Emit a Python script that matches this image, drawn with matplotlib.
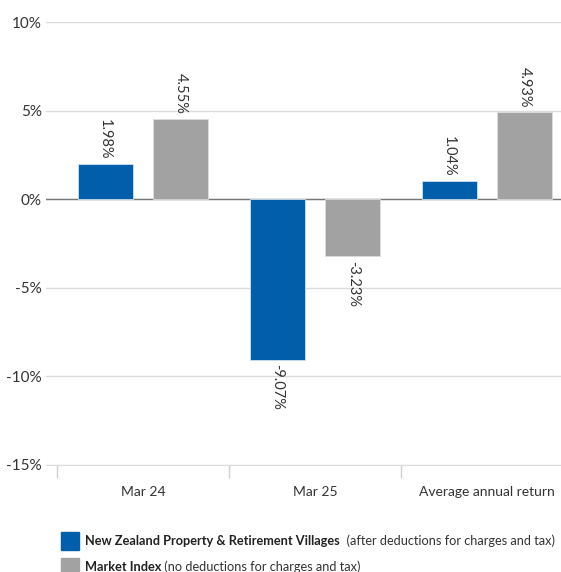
import numpy as np
import matplotlib.pyplot as plt
from matplotlib.patches import Rectangle

categories = ['Mar 24', 'Mar 25', 'Average annual return']
fund_values = [1.98, -9.07, 1.04]
index_values = [4.55, -3.23, 4.93]
fund_name = 'New Zealand Property & Retirement Villages'
fund_note = '  (after deductions for charges and tax)'
index_name = 'Market Index'
index_note = ' (no deductions for charges and tax)'

blue = '#005EAB'
grey = '#A2A2A3'
text_col = '#333333'

plt.rcParams['font.family'] = ['Lato', 'DejaVu Sans']

fig = plt.figure(figsize=(5.61, 5.72), dpi=100)
ax = fig.add_axes([46 / 561, 107 / 572, 515 / 561, 443 / 572])

x = np.arange(len(categories))
w = 0.32
ax.bar(x - 0.22, fund_values, w, color=blue, edgecolor='#cfe0f0', linewidth=0.6, zorder=3)
ax.bar(x + 0.22, index_values, w, color=grey, edgecolor='#dddddd', linewidth=0.6, zorder=3)

# value labels, rotated
for xs, vals in [(x - 0.22, fund_values), (x + 0.22, index_values)]:
    for xi, v in zip(xs, vals):
        off = 0.25 if v >= 0 else -0.25
        ax.text(xi, v + off, f'{v:.2f}%', rotation=270, ha='center',
                va='bottom' if v >= 0 else 'top', fontsize=10.5, color=text_col, zorder=4)

ax.set_xlim(-0.564, 2.43)
ax.set_ylim(-15, 10)
ax.set_yticks([10, 5, 0, -5, -10, -15])
ax.set_yticklabels([f'{t}%' for t in [10, 5, 0, -5, -10, -15]])
ax.yaxis.grid(True, color='#dcdcdc', linewidth=1, zorder=0)
ax.axhline(0, color='#777777', linewidth=1, zorder=2)

ax.set_xticks(x)
ax.set_xticklabels(categories)
ax.set_xticks(np.arange(len(categories)) - 0.5, minor=True)
ax.tick_params(axis='x', which='major', length=0, pad=15, labelsize=10, labelcolor=text_col)
ax.tick_params(axis='x', which='minor', length=9, width=1, color='#d0d0d0')
ax.tick_params(axis='y', length=0, pad=3, labelsize=11, labelcolor=text_col)

for s in ['top', 'right', 'left']:
    ax.spines[s].set_visible(False)
ax.spines['bottom'].set_color('#dcdcdc')

# legend drawn by hand, sized so the first line spans x 85..553
fig.canvas.draw()
r = fig.canvas.get_renderer()
fs = 10.0
for _ in range(2):
    a = fig.text(0, 0, fund_name, fontsize=fs, fontweight='bold')
    b = fig.text(0, 0, fund_note, fontsize=fs)
    width = a.get_window_extent(r).width + b.get_window_extent(r).width
    a.remove()
    b.remove()
    fs = fs * 468 / width

for row, (col, name, note) in enumerate([(blue, fund_name, fund_note), (grey, index_name, index_note)]):
    yc = 1 - (541 + 26 * row) / 572
    fig.patches.append(Rectangle((61 / 561, yc - 9 / 572), 18 / 561, 18 / 572,
                                 transform=fig.transFigure, color=col))
    t1 = fig.text(85 / 561, yc, name, fontsize=fs, fontweight='bold', va='center', color='#222222')
    bb = t1.get_window_extent(r)
    fig.text(bb.x1 / 561, yc, note, fontsize=fs, va='center', color=text_col)

fig.savefig('out.png', dpi=100)
